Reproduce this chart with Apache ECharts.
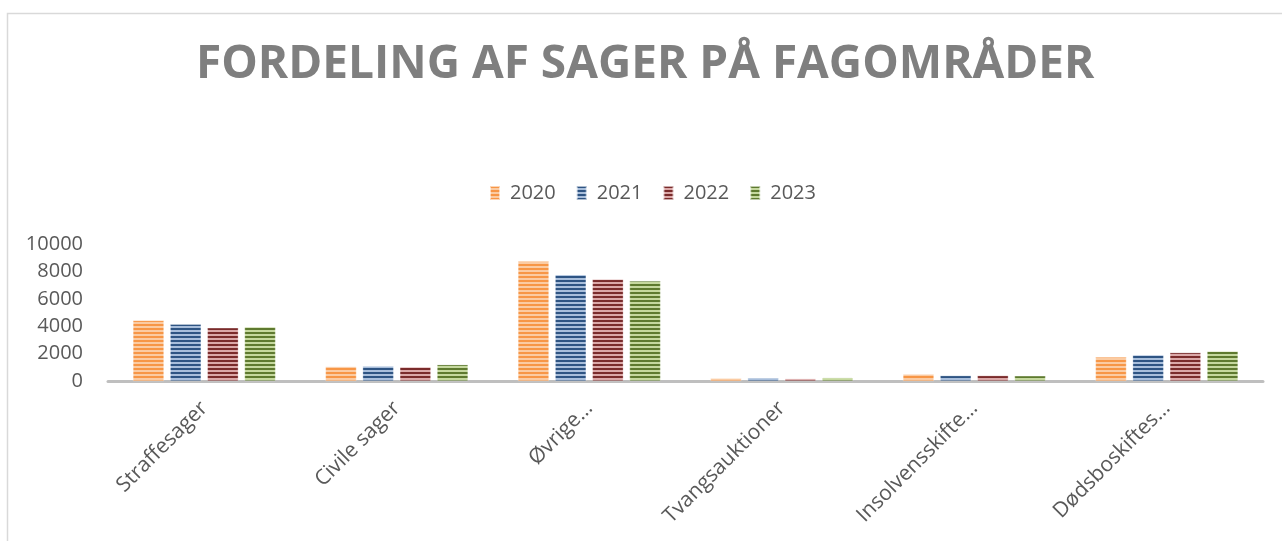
<!DOCTYPE html>
<html>
<head>
<meta charset="utf-8">
<script src="https://cdn.jsdelivr.net/npm/echarts@6/dist/echarts.min.js"></script>
<style>
html,body{margin:0;padding:0;background:#fff;}
#chart{width:1282px;height:541px;}
</style>
</head>
<body>
<div id="chart"></div>
<script>
const titleText = 'FORDELING AF SAGER PÅ FAGOMRÅDER';
const categories = ['Straffesager', 'Civile sager', 'Øvrige…', 'Tvangsauktioner', 'Insolvensskifte…', 'Dødsboskiftes…'];
const seriesNames = ['2020', '2021', '2022', '2023'];
const values2020 = [4420, 1050, 8750, 200, 500, 1750];
const values2021 = [4150, 1090, 7750, 230, 400, 1900];
const values2022 = [3880, 1020, 7420, 170, 400, 2070];
const values2023 = [3950, 1190, 7300, 240, 380, 2170];
const yTicks = { min: 0, max: 10000, interval: 2000 };

const palette = [
  { dark: '#F79646', light: '#FBCBA2' },
  { dark: '#2E5483', light: '#A8BEDB' },
  { dark: '#7A2B2B', light: '#DBA8A8' },
  { dark: '#5E7A2F', light: '#C5D89E' }
];

function makePattern(dark, light) {
  const c = document.createElement('canvas');
  c.width = 8; c.height = 4;
  const ctx = c.getContext('2d');
  ctx.fillStyle = light; ctx.fillRect(0, 0, 8, 4);
  ctx.fillStyle = dark; ctx.fillRect(0, 0, 8, 2);
  return { image: c, repeat: 'repeat' };
}

const allValues = [values2020, values2021, values2022, values2023];
const chart = echarts.init(document.getElementById('chart'));
const textColor = '#595959';

chart.setOption({
  animation: false,
  backgroundColor: '#fff',
  graphic: [{
    type: 'rect',
    shape: { x: 7.5, y: 13.5, width: 1300, height: 600 },
    style: { fill: 'none', stroke: '#d9d9d9', lineWidth: 1.5 },
    silent: true
  }],
  title: {
    text: titleText,
    left: 196,
    top: 42,
    padding: 0,
    textStyle: { fontFamily: 'Open Sans', fontWeight: 'bold', fontSize: 46, color: '#7f7f7f' }
  },
  legend: {
    data: seriesNames,
    top: 178,
    left: 484,
    itemWidth: 10,
    itemHeight: 14,
    itemGap: 20,
    icon: 'rect',
    textStyle: { fontFamily: 'Open Sans', fontSize: 20, color: textColor, padding: [0, 0, 0, 5] }
  },
  grid: { left: 108, right: 19, top: 244, bottom: 160, containLabel: false },
  xAxis: {
    type: 'category',
    data: categories,
    axisLine: { lineStyle: { color: '#bfbfbf', width: 3 } },
    axisTick: { show: false },
    axisLabel: { rotate: 45, margin: 24, fontFamily: 'Open Sans', fontSize: 21, color: textColor, interval: 0 }
  },
  yAxis: {
    type: 'value',
    min: yTicks.min, max: yTicks.max, interval: yTicks.interval,
    splitLine: { show: false },
    axisLine: { show: false },
    axisTick: { show: false },
    axisLabel: { margin: 25, fontFamily: 'Open Sans', fontSize: 20, color: textColor, formatter: v => String(v) }
  },
  series: seriesNames.map((name, i) => ({
    name: name,
    type: 'bar',
    data: allValues[i],
    barWidth: 31,
    barGap: '20%',
    itemStyle: {
      color: makePattern(palette[i].dark, palette[i].light),
      borderColor: 'rgba(255,255,255,0.6)',
      borderWidth: 0.5
    }
  }))
});
</script>
</body>
</html>
